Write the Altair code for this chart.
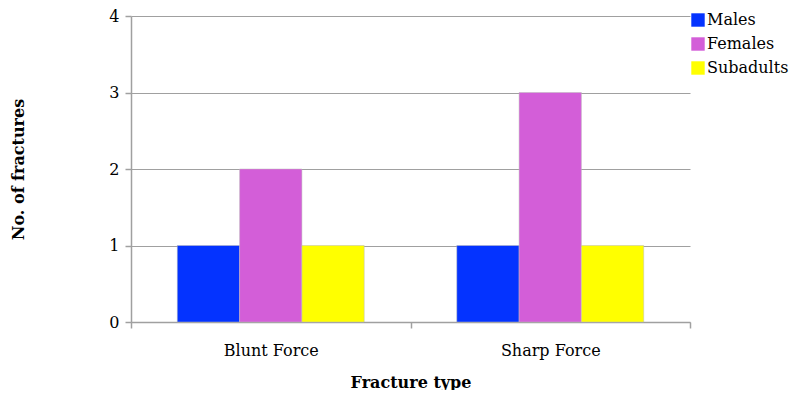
import altair as alt
import pandas as pd

categories = ["Blunt Force", "Sharp Force"]
groups = ["Males", "Females", "Subadults"]
males = [1, 1]
females = [2, 3]
subadults = [1, 1]
colors = ["#0433FF", "#D35ED8", "#FFFF00"]

rows = []
for i, c in enumerate(categories):
    for g, vals in zip(groups, [males, females, subadults]):
        rows.append({"type": c, "group": g, "value": vals[i]})
df = pd.DataFrame(rows)

FONT = "DejaVu Serif"
GRAY = "#A0A0A0"

chart = alt.Chart(df).mark_bar(stroke="#BBBBBB", strokeWidth=0.5).encode(
    x=alt.X("type:N", sort=categories,
            scale=alt.Scale(paddingInner=0, paddingOuter=0),
            axis=alt.Axis(title="Fracture type", labelAngle=0, tickBand="extent",
                          tickSize=6, labelPadding=14, titleX=279.5, titleY=60,
                          titleBaseline="middle", grid=False)),
    xOffset=alt.XOffset("group:N", sort=groups,
                        scale=alt.Scale(paddingInner=0, paddingOuter=0.743)),
    y=alt.Y("value:Q", scale=alt.Scale(domain=[0, 4]),
            axis=alt.Axis(title="No. of fractures", values=[0, 1, 2, 3, 4],
                          tickSize=6, labelPadding=6, grid=True,
                          titleX=-113, titleY=153, titleBaseline="middle")),
    color=alt.Color("group:N", sort=groups,
                    scale=alt.Scale(domain=groups, range=colors),
                    legend=alt.Legend(title=None, orient="none", legendX=559, legendY=-4,
                                      symbolType="square", symbolSize=180,
                                      symbolStrokeWidth=0, rowPadding=8,
                                      labelOffset=1, labelFontSize=16, labelFont=FONT,
                                      labelColor="#000000")),
).properties(
    width=559, height=306,
    autosize=alt.AutoSizeParams(type="none"),
    padding={"left": 123, "top": 8, "right": 100, "bottom": 68},
).configure_axis(
    labelFont=FONT, labelFontSize=16, labelColor="#000000",
    titleFont=FONT, titleFontSize=16, titleFontWeight="bold", titleColor="#000000",
    domainColor=GRAY, domainWidth=1.5, tickColor=GRAY, tickWidth=1.5,
    gridColor=GRAY, gridWidth=1.2,
).configure_view(stroke=None)

chart.save("out.html", embed_options={"renderer": "svg", "actions": False})
